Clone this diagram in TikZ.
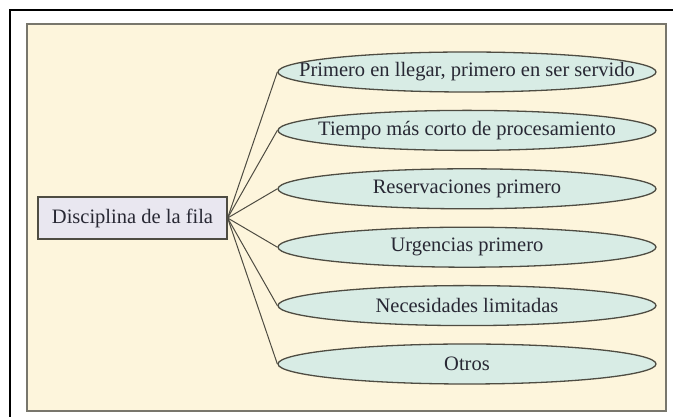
\documentclass[tikz,border=0pt]{standalone}
\usepackage{fontspec}
\setmainfont{Liberation Serif}
\usetikzlibrary{shapes.geometric}
\definecolor{cream}{RGB}{253,245,220}
\definecolor{panelborder}{RGB}{120,118,108}
\definecolor{ellfill}{RGB}{216,236,229}
\definecolor{boxfill}{RGB}{233,231,240}
\definecolor{edge}{RGB}{78,76,66}
\definecolor{txt}{RGB}{40,40,52}
\begin{document}
\begin{tikzpicture}[x=1pt,y=1pt,
  oval/.style={ellipse, draw=edge, line width=1.3pt, fill=ellfill, minimum width=378pt, minimum height=40pt, inner sep=0pt},
  lbl/.style={text=txt, inner sep=0pt, font=\fontsize{20.5}{24}\selectfont},
  rootbox/.style={draw=edge, line width=1.2pt, fill=boxfill, minimum width=189pt, minimum height=42pt, inner sep=0pt, text=txt, font=\fontsize{20.5}{24}\selectfont},
  link/.style={draw=edge, line width=1pt}]
\useasboundingbox (0,0) rectangle (675,417);
\fill[white] (0,0) rectangle (675,417);
\draw[black, line width=2pt] (10,0) -- (10,407) -- (673,407);
\draw[panelborder, line width=1.2pt, fill=cream] (27,6) rectangle (666,393);
\node[rootbox] (root) at (132.5,199) {Disciplina de la fila};
\node[oval] (e1) at (467,345) {};
\node[oval] (e2) at (467,286.6) {};
\node[oval] (e3) at (467,228.2) {};
\node[oval] (e4) at (467,169.8) {};
\node[oval] (e5) at (467,111.4) {};
\node[oval] (e6) at (467,53) {};
\node[lbl] (t1) at (e1.center) {Primero en llegar, primero en ser servido};
\node[lbl] (t2) at (e2.center) {Tiempo más corto de procesamiento};
\node[lbl] (t3) at (e3.center) {Reservaciones primero};
\node[lbl] (t4) at (e4.center) {Urgencias primero};
\node[lbl] (t5) at (e5.center) {Necesidades limitadas};
\node[lbl] (t6) at (e6.center) {Otros};
\foreach \i in {1,...,6} {
  \draw[link] (root.east) -- (e\i.west);
}
\end{tikzpicture}
\end{document}
